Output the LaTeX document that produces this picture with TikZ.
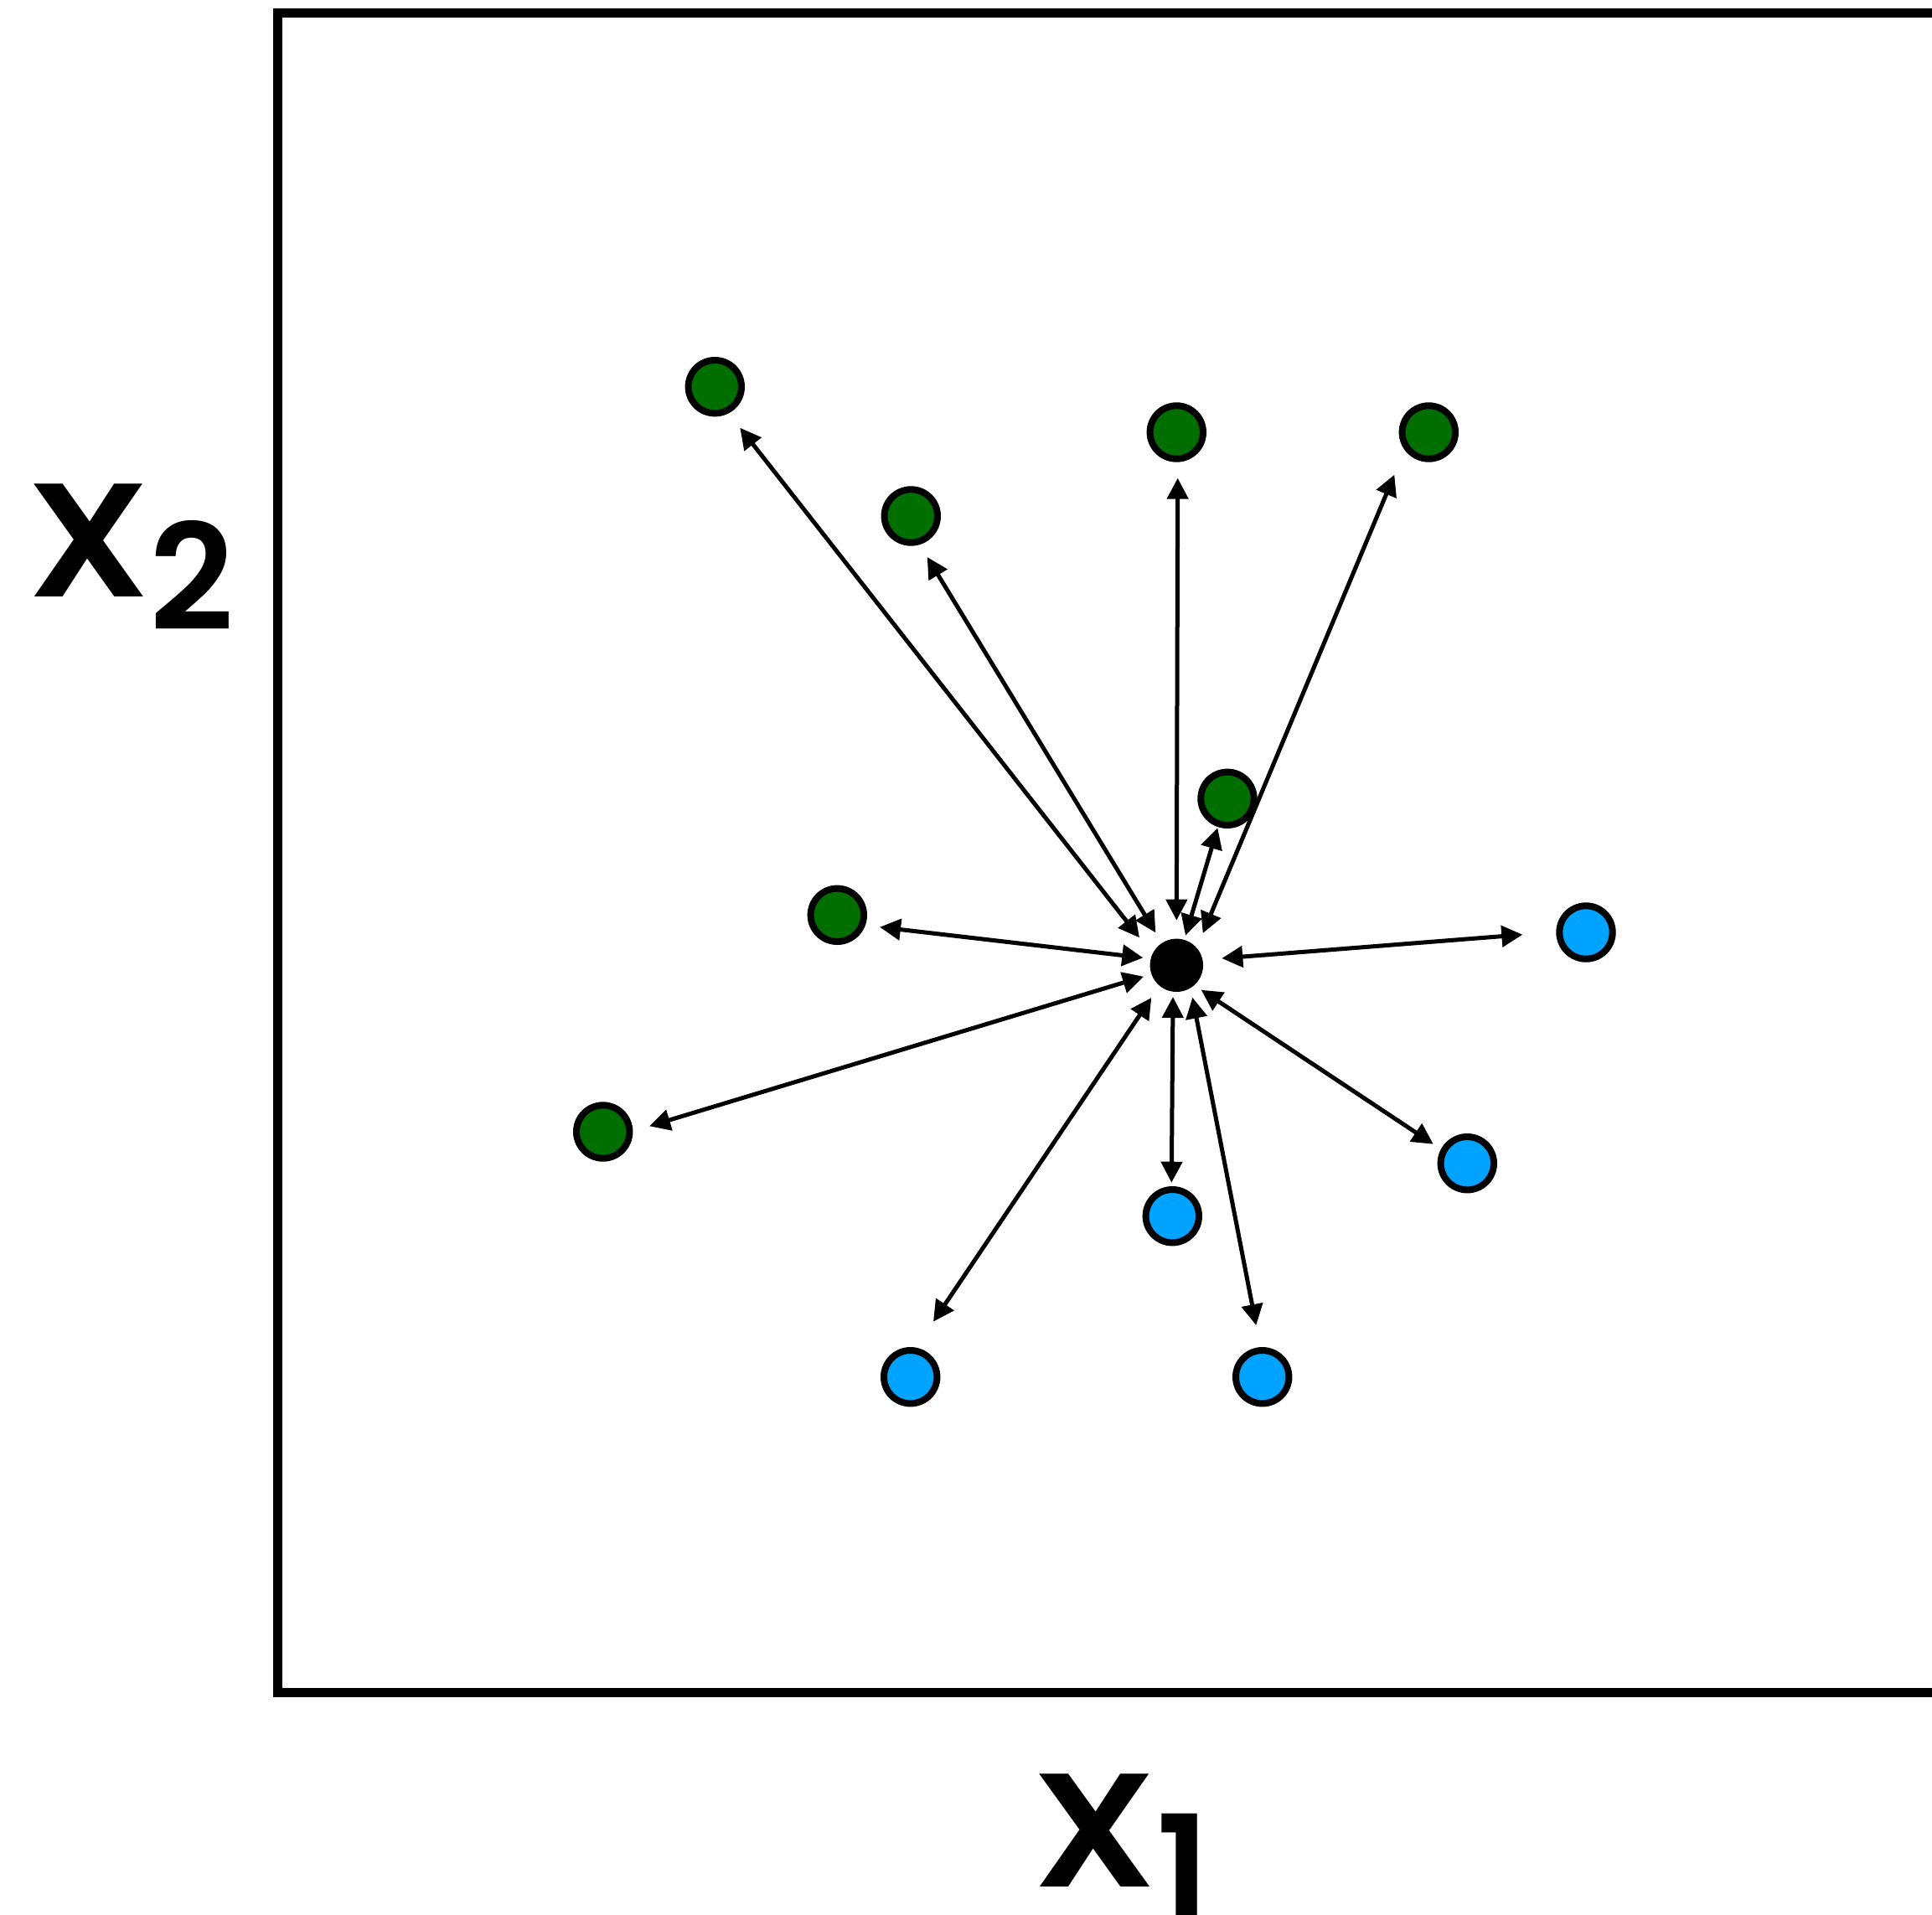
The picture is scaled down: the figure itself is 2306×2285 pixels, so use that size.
\documentclass[tikz,border=0pt]{standalone}
\usepackage{fontspec}
\newfontfamily\labfont{Poppins SemiBold}
\usetikzlibrary{arrows.meta}
\definecolor{dgreen}{RGB}{0,111,0}
\definecolor{lblue}{RGB}{0,163,255}
\tikzset{
  pt/.style={circle, draw=black, line width=8pt, minimum size=63.4pt, inner sep=0pt},
  gdot/.style={pt, fill=dgreen},
  bdot/.style={pt, fill=lblue},
  cdot/.style={circle, fill=black, minimum size=63.4pt, inner sep=0pt},
  arr/.style={line width=5pt, {Triangle[length=25pt,width=25pt]}-{Triangle[length=25pt,width=25pt]}},
  axlab/.style={anchor=base west, inner sep=0pt, font=\labfont}
}
\begin{document}
\begin{tikzpicture}[x=1pt,y=-1pt]
\useasboundingbox (0,0) rectangle (2306,2285);
% frame (right side outside the picture)
\draw[line width=11pt] (2330,16) -- (331,16) -- (331,2020) -- (2330,2020);
% labels
\node[axlab] (x2) at (32.5,712) {\fontsize{193}{193}\selectfont \scalebox{1.11}[1]{X}\hspace{-1.4pt}\raisebox{-40pt}{\fontsize{176}{176}\selectfont 2}};
\node[axlab] (x1) at (1232,2252) {\fontsize{193}{193}\selectfont \scalebox{1.12}[1]{X}\hspace{-0.4pt}\raisebox{-41pt}{\fontsize{176}{176}\selectfont 1}};
% points
\node[cdot] (c) at (1404.3,1152.3) {};
\node[gdot] (g1) at (853.3,461.7) {};
\node[gdot] (g2) at (1087.3,616) {};
\node[gdot] (g3) at (1404.3,516) {};
\node[gdot] (g4) at (1705.3,516) {};
\node[gdot] (g5) at (1465,953.3) {};
\node[gdot] (g6) at (999.3,1092.3) {};
\node[gdot] (g7) at (719.7,1351) {};
\node[bdot] (b8) at (1893,1113) {};
\node[bdot] (b9) at (1751.3,1388.7) {};
\node[bdot] (b10) at (1399.3,1451.7) {};
\node[bdot] (b11) at (1086.7,1643.7) {};
\node[bdot] (b12) at (1506.7,1643.7) {};
% arrows
\draw[arr] ([shift={(-44.3,-33)}]c.center) -- ([shift={(30,49)}]g1.center);
\draw[arr] ([shift={(-25,-39)}]c.center) -- ([shift={(19.4,49)}]g2.center);
\draw[arr] ([shift={(0,-53.7)}]c.center) -- ([shift={(1.4,54.7)}]g3.center);
\draw[arr] ([shift={(31.4,-38.3)}]c.center) -- ([shift={(-41,50.7)}]g4.center);
\draw[arr] ([shift={(10.7,-35.6)}]c.center) -- ([shift={(-11.7,35)}]g5.center);
\draw[arr] ([shift={(-40,-9)}]c.center) -- ([shift={(50.7,14.4)}]g6.center);
\draw[arr] ([shift={(-39.3,13.4)}]c.center) -- ([shift={(55.3,-6.7)}]g7.center);
\draw[arr] ([shift={(54,-8.3)}]c.center) -- ([shift={(-75.7,2.7)}]b8.center);
\draw[arr] ([shift={(29.4,29.4)}]c.center) -- ([shift={(-40.6,-23)}]b9.center);
\draw[arr] ([shift={(-4.3,37.7)}]c.center) -- ([shift={(-1,-40)}]b10.center);
\draw[arr] ([shift={(-30,38.7)}]c.center) -- ([shift={(27.3,-66)}]b11.center);
\draw[arr] ([shift={(19,38.4)}]c.center) -- ([shift={(-7.4,-61.7)}]b12.center);
\end{tikzpicture}
\end{document}
